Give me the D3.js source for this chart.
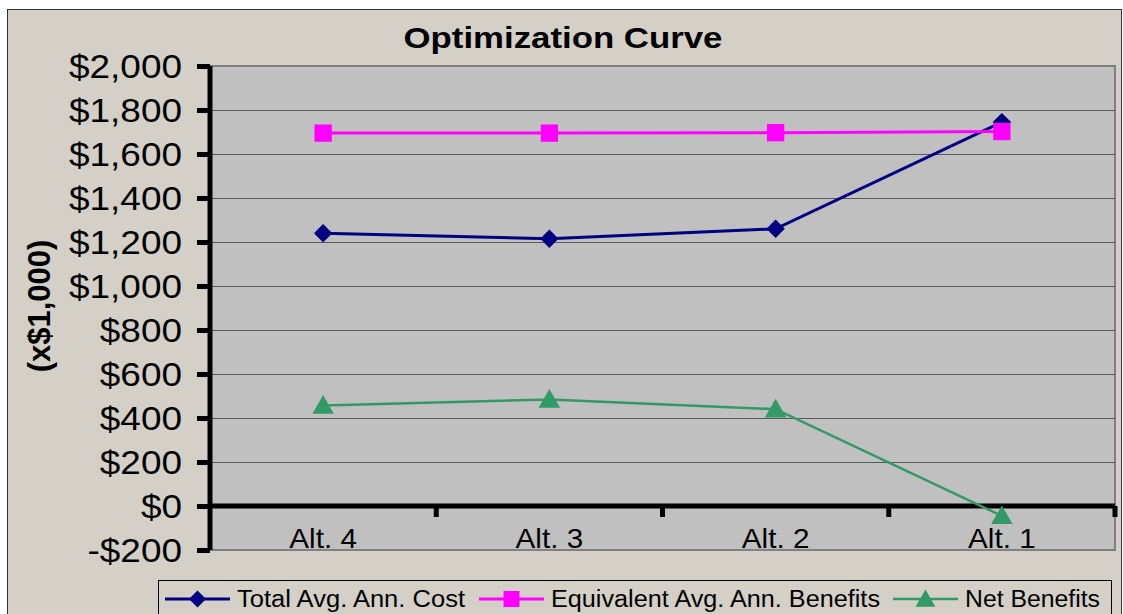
<!DOCTYPE html>
<html><head><meta charset="utf-8">
<script src="https://cdn.jsdelivr.net/npm/d3@7"></script>
<style>html,body{margin:0;padding:0;background:#fff;}svg{display:block;font-family:"Liberation Sans",Arial,sans-serif;}</style>
</head><body>
<svg id="c" width="1123" height="614"></svg>
<script>
const categories = ["Alt. 4", "Alt. 3", "Alt. 2", "Alt. 1"];
const totalCost = [1240, 1215, 1260, 1745];
const benefits = [1695, 1695, 1697, 1702];
const netBenefits = [457, 484, 440, -45];
const yTicks = [-200, 0, 200, 400, 600, 800, 1000, 1200, 1400, 1600, 1800, 2000];
const seriesNames = ["Total Avg. Ann. Cost", "Equivalent Avg. Ann. Benefits", "Net Benefits"];
const titleText = "Optimization Curve";
const yTitle = "(x$1,000)";

const svg = d3.select("#c");
// chart area
svg.append("rect").attr("x", 7.5).attr("y", 9.5).attr("width", 1114).attr("height", 620)
  .attr("fill", "#d4d0c8").attr("stroke", "#333").attr("stroke-width", 1);

const L = 210, R = 1115, T = 66, B = 550;
const x = d3.scaleBand().domain(categories).range([L, R]);
const y = d3.scaleLinear().domain([-200, 2000]).range([B, T]);

// plot area
svg.append("rect").attr("x", L).attr("y", T).attr("width", R - L).attr("height", B - T)
  .attr("fill", "#c0c0c0").attr("stroke", "#808080").attr("stroke-width", 2);

// gridlines
svg.append("g").selectAll("line").data(yTicks.filter(v => v !== -200 && v !== 2000 && v !== 0)).join("line")
  .attr("x1", L).attr("x2", R).attr("y1", d => Math.round(y(d)) + 0.5).attr("y2", d => Math.round(y(d)) + 0.5)
  .attr("stroke", "#5a5a5a").attr("stroke-width", 1);

// y axis
const yAxis = svg.append("g").attr("transform", `translate(${L},0)`)
  .call(d3.axisLeft(y).tickValues(yTicks).tickSize(13).tickPadding(14)
    .tickFormat(d => (d < 0 ? "-$" : "$") + d3.format(",")(Math.abs(d))));
yAxis.select(".domain").attr("stroke", "#000").attr("stroke-width", 5).attr("d", `M0,${T}V${B}`);
yAxis.selectAll(".tick line").attr("stroke", "#000").attr("stroke-width", 5);
yAxis.selectAll(".tick text").attr("fill", "#000").attr("font-size", 33)
  .attr("font-family", "'Liberation Sans', Arial, sans-serif")
  .attr("dy", "0.36em")
  .each(function() {
    const t = d3.select(this);
    const xx = +t.attr("x");
    t.attr("x", null).attr("transform", `translate(${xx - 1},0) scale(1.12,1)`);
  });

// x axis at zero
const xAxis = svg.append("g").attr("transform", `translate(0,${y(0)})`);
xAxis.append("line").attr("x1", L).attr("x2", R).attr("stroke", "#000").attr("stroke-width", 5);
xAxis.selectAll(".tk").data(categories).join("line").attr("class", "tk")
  .attr("x1", d => x(d) + x.bandwidth()).attr("x2", d => x(d) + x.bandwidth())
  .attr("y1", 0).attr("y2", 11).attr("stroke", "#000").attr("stroke-width", 5);
svg.append("g").selectAll("text").data(categories).join("text")
  .attr("transform", d => `translate(${x(d) + x.bandwidth() / 2},${B - 2}) scale(1.06,1)`)
  .attr("text-anchor", "middle").attr("font-size", 28).attr("fill", "#000").text(d => d);

// title
svg.append("text").attr("transform", `translate(563,48) scale(1.2,1)`)
  .attr("text-anchor", "middle").attr("font-size", 29).attr("font-weight", "bold").attr("fill", "#000").text(titleText);
// y title
svg.append("text").attr("transform", `translate(50,306) rotate(-90)`)
  .attr("text-anchor", "middle").attr("font-size", 31).attr("font-weight", "bold").attr("fill", "#000").text(yTitle);

const series = [
  { name: seriesNames[0], values: totalCost, color: "#000080", width: 3, shape: d3.symbolSquare, size: 169, rot: 45 },
  { name: seriesNames[1], values: benefits, color: "#ff00ff", width: 3, shape: d3.symbolSquare, size: 300, rot: 0 },
  { name: seriesNames[2], values: netBenefits, color: "#339966", width: 2.5, shape: d3.symbolTriangle, size: 200, rot: 0, dy: 2 }
];
const cx = d => x(d) + x.bandwidth() / 2;
const line = d3.line().x((d, i) => cx(categories[i])).y(d => y(d));

series.forEach(s => {
  const g = svg.append("g");
  g.append("path").attr("d", line(s.values)).attr("fill", "none").attr("stroke", s.color).attr("stroke-width", s.width);
  g.selectAll("path.m").data(s.values).join("path").attr("class", "m")
    .attr("d", d3.symbol().type(s.shape).size(s.size))
    .attr("transform", (d, i) => `translate(${cx(categories[i])},${y(d) + (s.dy || 0)}) rotate(${s.rot})`)
    .attr("fill", s.color);
});

// legend
svg.append("rect").attr("x", 158.5).attr("y", 580.5).attr("width", 953).attr("height", 60)
  .attr("fill", "#d4d0c8").attr("stroke", "#000").attr("stroke-width", 1);
const legX = [165, 479, 893];
const legLen = [228, 329, 135];
series.forEach((s, i) => {
  const g = svg.append("g").attr("transform", `translate(${legX[i]},599)`);
  g.append("line").attr("x1", 0).attr("x2", 65).attr("stroke", s.color).attr("stroke-width", s.width);
  g.append("path").attr("d", d3.symbol().type(s.shape).size(s.size * 0.85)).attr("fill", s.color)
    .attr("transform", `translate(32.5,${s.dy || 0}) rotate(${s.rot})`);
  g.append("text").attr("x", 72).attr("y", 8).attr("font-size", 23).attr("fill", "#000")
    .attr("textLength", legLen[i]).attr("lengthAdjust", "spacingAndGlyphs").text(s.name);
});
</script>
</body></html>
